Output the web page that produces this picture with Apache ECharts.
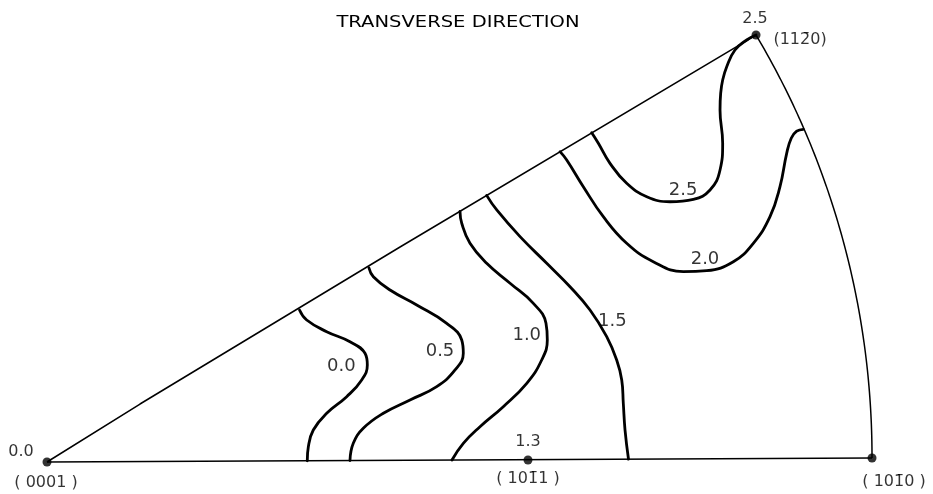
<!DOCTYPE html>
<html>
<head>
<meta charset="utf-8">
<script src="https://cdn.jsdelivr.net/npm/echarts@6/dist/echarts.min.js"></script>
<style>
  html, body { margin: 0; padding: 0; background: #fff; }
  #chart { width: 933px; height: 494px; }
</style>
</head>
<body>
<div id="chart"></div>
<script>
// Inverse pole figure (hexagonal standard triangle), projection coordinates:
// (0001) at the origin, unit radius out to the (10-10)/(11-20) arc.

// Pole positions, names and measured values
const poleNames  = ['( 0001 )', '( 101\u03041 )', '( 101\u03040 )', '(112\u03040)'];
const poleXY     = [[0, 0], [0.5823, 0.0024], [0.9988, 0.0048], [0.8584, 0.5169]];
const poleValues = [0.0, 1.3, null, 2.5];

// Edge (0001) -> (11-20)
const edgeTransverse = [[0, 0], [0.1126, 0.0702], [0.4274, 0.2603], [0.8584, 0.5169]];

// Contour levels and their traced lines
const contourLevels = [0.0, 0.5, 1.0, 1.5, 2.0, 2.5];
const contour00 = [[0.3057, 0.1840], [0.3144, 0.1719], [0.3386, 0.1578], [0.3668, 0.1456], [0.3850, 0.1316],
  [0.3878, 0.1174], [0.3810, 0.0993], [0.3628, 0.0791], [0.3386, 0.0590], [0.3224, 0.0387],
  [0.3164, 0.0185], [0.3151, 0.0015]];
const contour05 = [[0.3898, 0.2349], [0.3951, 0.2243], [0.4153, 0.2082], [0.4476, 0.1901], [0.4839, 0.1679],
  [0.5021, 0.1477], [0.5040, 0.1316], [0.4940, 0.1114], [0.4718, 0.0912], [0.4395, 0.0751],
  [0.4072, 0.0590], [0.3829, 0.0408], [0.3708, 0.0226], [0.3668, 0.0018]];
const contour10 = [[0.5000, 0.3033], [0.5021, 0.2890], [0.5121, 0.2648], [0.5323, 0.2406], [0.5606, 0.2164],
  [0.5888, 0.1921], [0.6041, 0.1679], [0.6057, 0.1477], [0.5989, 0.1235], [0.5808, 0.0953],
  [0.5524, 0.0670], [0.5242, 0.0427], [0.5040, 0.0226], [0.4903, 0.0024]];
const contour15 = [[0.5323, 0.3228], [0.5445, 0.3051], [0.5727, 0.2728], [0.6050, 0.2406], [0.6332, 0.2122],
  [0.6574, 0.1840], [0.6776, 0.1517], [0.6897, 0.1235], [0.6958, 0.0993], [0.6977, 0.0711],
  [0.6998, 0.0387], [0.7040, 0.0034]];
const contour20 = [[0.6211, 0.3757], [0.6292, 0.3656], [0.6493, 0.3333], [0.6735, 0.2970], [0.7018, 0.2648],
  [0.7340, 0.2425], [0.7704, 0.2304], [0.7987, 0.2316], [0.8309, 0.2425], [0.8551, 0.2648],
  [0.8753, 0.2970], [0.8874, 0.3333], [0.8955, 0.3737], [0.9010, 0.3920], [0.9076, 0.4005],
  [0.9156, 0.4028]];
const contour25 = [[0.6595, 0.3987], [0.6675, 0.3859], [0.6816, 0.3616], [0.7018, 0.3374], [0.7261, 0.3212],
  [0.7543, 0.3151], [0.7825, 0.3180], [0.8027, 0.3293], [0.8148, 0.3535], [0.8180, 0.3859],
  [0.8148, 0.4261], [0.8156, 0.4465], [0.8180, 0.4625], [0.8229, 0.4786], [0.8329, 0.4988],
  [0.8471, 0.5109], [0.8584, 0.5169]];
const contourLines = [contour00, contour05, contour10, contour15, contour20, contour25];
// Where each level is annotated
const contourLabelAt = [[0.3563, 0.1156], [0.4758, 0.1344], [0.5808, 0.1538], [0.6844, 0.1699],
  [0.7966, 0.2458], [0.7700, 0.3293]];

const titleText = 'TRANSVERSE DIRECTION';

// (10-10) -> (11-20) arc about the (0001) pole
function arcPoints(p, q, steps) {
  const a0 = Math.atan2(p[1], p[0]), a1 = Math.atan2(q[1], q[0]);
  const r0 = Math.hypot(p[0], p[1]), r1 = Math.hypot(q[0], q[1]);
  const pts = [];
  for (let i = 0; i <= steps; i++) {
    const t = i / steps;
    const a = a0 + (a1 - a0) * t, r = r0 + (r1 - r0) * t;
    pts.push([r * Math.cos(a), r * Math.sin(a)]);
  }
  return pts;
}

const FONT = '"DejaVu Sans", "Liberation Sans", sans-serif';
const INK = '#000';

// Label offsets (px) for each pole: value above, Miller-Bravais index below
const valueOffsets = [[-26, -10], [0, -18], [0, 0], [-1, -16]];
const nameOffsets  = [[-1, 21], [0, 19], [22, 24], [44, 5]];

const frameStyle = { color: INK, width: 1.5 };
const lineBase = { type: 'line', showSymbol: false, symbol: 'none', clip: false, silent: true, z: 3 };

const series = [];
series.push(Object.assign({}, lineBase, { data: [poleXY[0], poleXY[2]], lineStyle: frameStyle }));
series.push(Object.assign({}, lineBase, { data: edgeTransverse, lineStyle: frameStyle }));
series.push(Object.assign({}, lineBase, { data: arcPoints(poleXY[2], poleXY[3], 80), lineStyle: frameStyle }));

contourLines.forEach((pts, i) => {
  series.push(Object.assign({}, lineBase, {
    name: contourLevels[i].toFixed(1),
    data: pts,
    smooth: 0.45,
    lineStyle: { color: INK, width: 2.8, cap: 'round', join: 'round' }
  }));
});

// Contour level annotations
series.push({
  type: 'scatter', symbolSize: 0, silent: true, z: 4,
  data: contourLabelAt.map((p, i) => ({ value: p, label: { formatter: contourLevels[i].toFixed(1) } })),
  label: {
    show: true, position: 'inside', color: INK,
    fontFamily: FONT, fontSize: 18, align: 'center', verticalAlign: 'middle'
  }
});

// Poles with their values
series.push({
  type: 'scatter', symbol: 'circle', symbolSize: 9, silent: true, z: 5,
  itemStyle: { color: INK },
  data: poleXY.map((p, i) => ({
    value: p,
    label: {
      show: poleValues[i] !== null,
      formatter: poleValues[i] !== null ? poleValues[i].toFixed(1) : '',
      offset: valueOffsets[i]
    }
  })),
  label: {
    position: 'inside', color: INK, fontFamily: FONT, fontSize: 16,
    align: 'center', verticalAlign: 'middle'
  }
});

// Pole indices
series.push({
  type: 'scatter', symbolSize: 0, silent: true, z: 5,
  data: poleXY.map((p, i) => ({
    value: p,
    label: { formatter: poleNames[i], offset: nameOffsets[i] }
  })),
  label: {
    show: true, position: 'inside', color: INK, fontFamily: FONT, fontSize: 16,
    align: 'center', verticalAlign: 'middle'
  }
});

const chart = echarts.init(document.getElementById('chart'), null, { renderer: 'canvas' });
chart.setOption({
  animation: false,
  backgroundColor: '#fff',
  grid: { left: 47, right: 60, top: 7.7, bottom: 32, containLabel: false, outerBoundsMode: 'none' },
  xAxis: { type: 'value', min: 0, max: 1, show: false },
  yAxis: { type: 'value', min: 0, max: 0.55, show: false },
  graphic: [{
    type: 'text', x: 458, y: 23, scaleX: 1.22, z: 10,
    style: {
      text: titleText, fill: INK, font: '16px ' + FONT,
      align: 'center', verticalAlign: 'middle'
    }
  }],
  series: series
});
</script>
</body>
</html>
